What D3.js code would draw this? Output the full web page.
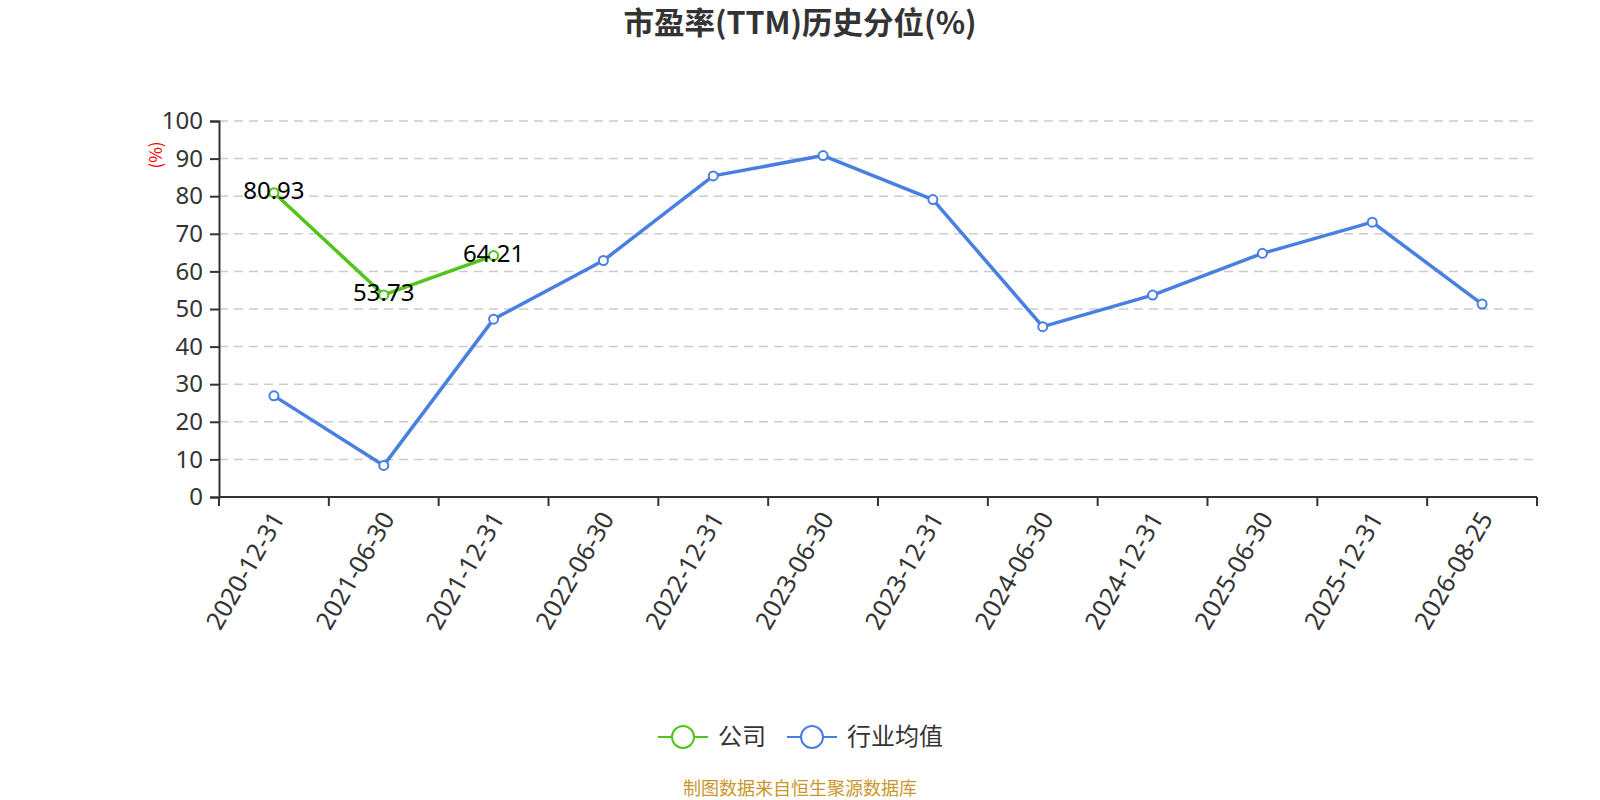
<!DOCTYPE html>
<html>
<head>
<meta charset="utf-8">
<script src="https://cdn.jsdelivr.net/npm/d3@7"></script>
<style>
  body { margin: 0; background: #fff; }
  svg { font-family: "Noto Sans CJK SC", "Noto Sans", sans-serif; }
</style>
</head>
<body>
<script>
// categories (report dates)
const dates = ["2020-12-31", "2021-06-30", "2021-12-31", "2022-06-30", "2022-12-31", "2023-06-30",
    "2023-12-31", "2024-06-30", "2024-12-31", "2025-06-30", "2025-12-31", "2026-08-25"];
// company PE percentile (only first three dates)
const company = [80.93, 53.73, 64.21];
// industry average PE percentile
const industry = [26.9, 8.4, 47.3, 62.9, 85.4, 90.8, 79.1, 45.3, 53.7, 64.8, 73.1, 51.3];
const yTicks = [0, 10, 20, 30, 40, 50, 60, 70, 80, 90, 100];

const seriesNames = ["公司", "行业均值"];
const colors = ["#52c41a", "#4a7fe2"];

// svg size and margins
const canvWidth = 1600, canvHeight = 800;
const margin = {top: 121, right: 63, bottom: 303, left: 219};
const width = canvWidth - margin.left - margin.right;
const height = canvHeight - margin.top - margin.bottom;

const svg = d3.select("body").append("svg")
    .attr("width", canvWidth)
    .attr("height", canvHeight);

// title
svg.append("text")
    .attr("x", canvWidth / 2)
    .attr("y", 34)
    .attr("font-size", "30.5px")
    .attr("font-weight", "bold")
    .attr("fill", "#333")
    .style("text-anchor", "middle")
    .text("市盈率(TTM)历史分位(%)");

const g = svg.append("g")
    .attr("transform", `translate(${margin.left},${margin.top})`);

const xScale = d3.scaleBand().range([0, width]).padding(0).domain(dates);
const xc = d => xScale(d) + xScale.bandwidth() / 2;
const yScale = d3.scaleLinear().range([height, 0]).domain([0, 100]);

// dashed grid lines
g.append("g")
    .selectAll("line")
    .data(yTicks.filter(t => t > 0))
    .enter().append("line")
    .attr("x1", 0)
    .attr("x2", width)
    .attr("y1", d => yScale(d))
    .attr("y2", d => yScale(d))
    .attr("stroke", "#ccc")
    .attr("stroke-width", 1.5)
    .attr("stroke-dasharray", "9,6");

// y axis
const yAxis = d3.axisLeft(yScale).tickValues(yTicks).tickSize(9).tickPadding(7);
const yG = g.append("g").call(yAxis);
yG.select(".domain").attr("stroke", "#333").attr("stroke-width", 2);
yG.selectAll(".tick line").attr("stroke", "#333").attr("stroke-width", 2);
yG.selectAll(".tick text")
    .attr("fill", "#333")
    .attr("font-size", "24px")
    .attr("font-family", "Noto Sans, sans-serif");

// y axis unit label
g.append("text")
    .attr("transform", "rotate(-90)")
    .attr("x", -34)
    .attr("y", -57)
    .attr("fill", "red")
    .attr("font-size", "17px")
    .style("text-anchor", "middle")
    .text("(%)");

// x axis: line + ticks on band boundaries
const xG = g.append("g").attr("transform", `translate(0,${height})`);
xG.append("line")
    .attr("x1", 0).attr("x2", width)
    .attr("stroke", "#333").attr("stroke-width", 2);
xG.selectAll("line.tick")
    .data(dates.map(d => xScale(d)).concat([width]))
    .enter().append("line")
    .attr("class", "tick")
    .attr("x1", d => d).attr("x2", d => d)
    .attr("y1", 0).attr("y2", 9)
    .attr("stroke", "#333").attr("stroke-width", 2);
xG.selectAll("text")
    .data(dates)
    .enter().append("text")
    .attr("transform", d => `translate(${xc(d) + 4},17) rotate(-60)`)
    .attr("dy", "0.35em")
    .attr("fill", "#333")
    .attr("font-size", "25px")
    .attr("font-family", "Noto Sans, sans-serif")
    .style("text-anchor", "end")
    .text(d => d);

// lines
const line = d3.line()
    .x(d => xc(d.date))
    .y(d => yScale(d.value));

const seriesData = [
    company.map((v, i) => ({date: dates[i], value: v})),
    industry.map((v, i) => ({date: dates[i], value: v}))
];

seriesData.forEach((s, k) => {
    g.append("path")
        .datum(s)
        .attr("fill", "none")
        .attr("stroke", colors[k])
        .attr("stroke-width", 3.5)
        .attr("stroke-linejoin", "round")
        .attr("d", line);
    g.selectAll(".pt" + k)
        .data(s)
        .enter().append("circle")
        .attr("class", "pt" + k)
        .attr("cx", d => xc(d.date))
        .attr("cy", d => yScale(d.value))
        .attr("r", 4.5)
        .attr("fill", "#fff")
        .attr("stroke", colors[k])
        .attr("stroke-width", 2);
});

// value labels for the company series
g.selectAll(".lbl")
    .data(seriesData[0])
    .enter().append("text")
    .attr("class", "lbl")
    .attr("x", d => xc(d.date))
    .attr("y", d => yScale(d.value) - 2)
    .attr("dy", "0.35em")
    .attr("fill", "#000")
    .attr("font-size", "24px")
    .attr("font-family", "Noto Sans, sans-serif")
    .style("text-anchor", "middle")
    .text(d => d.value.toFixed(2));

// legend
const legendX = [658, 787];
const legend = svg.append("g");
seriesNames.forEach((name, k) => {
    const lg = legend.append("g").attr("transform", `translate(${legendX[k]},737)`);
    lg.append("line")
        .attr("x1", 0).attr("x2", 50)
        .attr("stroke", colors[k]).attr("stroke-width", 2);
    lg.append("circle")
        .attr("cx", 25).attr("r", 11)
        .attr("fill", "#fff")
        .attr("stroke", colors[k]).attr("stroke-width", 2);
    lg.append("text")
        .attr("x", 60)
        .attr("dy", "0.35em")
        .attr("fill", "#333")
        .attr("font-size", "24px")
        .text(name);
});

// footer
svg.append("text")
    .attr("x", canvWidth / 2)
    .attr("y", 789)
    .attr("dy", "0.35em")
    .attr("fill", "#c8962d")
    .attr("font-size", "18px")
    .style("text-anchor", "middle")
    .text("制图数据来自恒生聚源数据库");
</script>
</body>
</html>
